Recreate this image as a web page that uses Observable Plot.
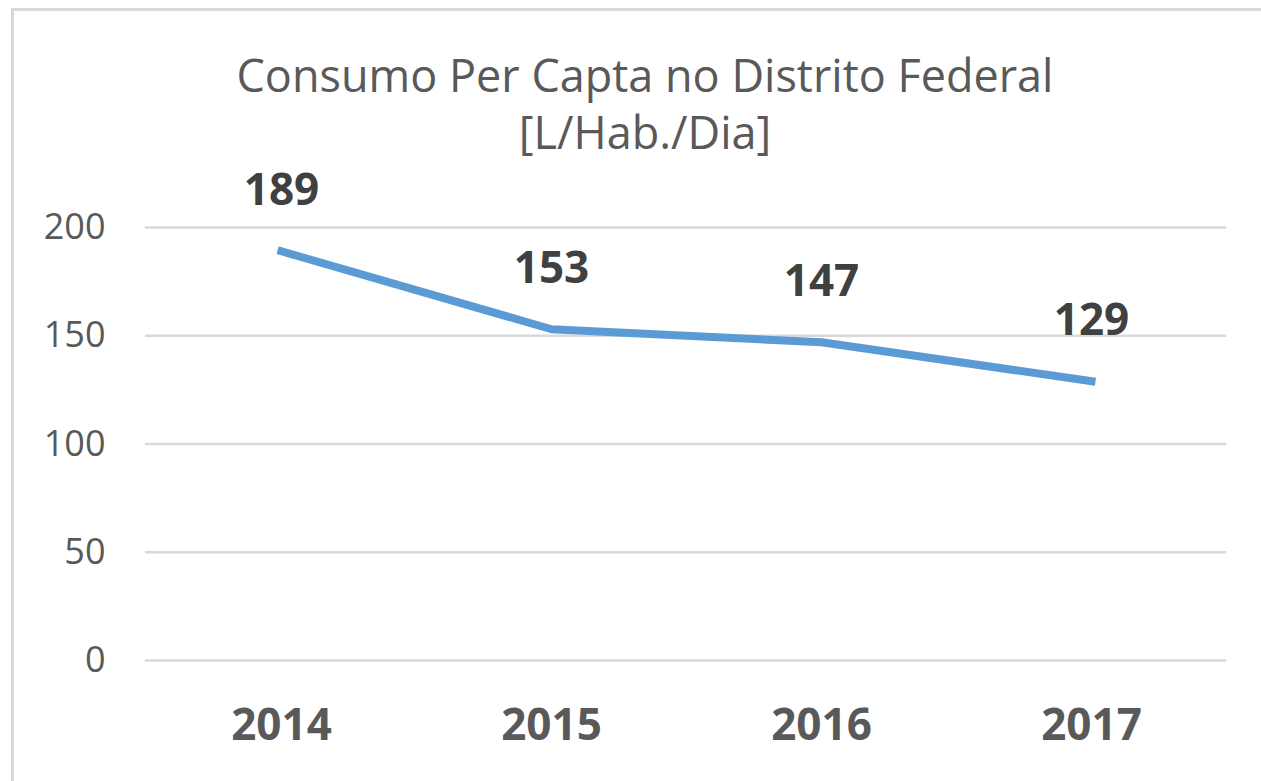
<!DOCTYPE html>
<html>
<head>
<meta charset="utf-8">
<script src="https://cdn.jsdelivr.net/npm/d3@7"></script>
<script src="https://cdn.jsdelivr.net/npm/@observablehq/plot@0.6"></script>
<style>
  html, body { margin: 0; padding: 0; background: #fff; overflow: hidden; width: 1261px; height: 781px; }
  #frame { position: absolute; left: 11px; top: 8px; width: 1400px; height: 900px; border: 3px solid #d9d9d9; box-sizing: border-box; }
  #title { position: absolute; left: 0; top: 46px; width: 1290px; text-align: center; font-family: "Open Sans", sans-serif; font-size: 45px; line-height: 57px; color: #595959; }
  #chart { position: absolute; left: 0; top: 150px; }
</style>
</head>
<body>
<div id="frame"></div>
<div id="title">Consumo Per Capta no Distrito Federal<br>[L/Hab./Dia]</div>
<div id="chart"></div>
<script>
const years = ["2014", "2015", "2016", "2017"];
const values = [189, 153, 147, 129];
const yTicks = [0, 50, 100, 150, 200];

const data = years.map((year, i) => ({year, value: values[i]}));

const plot = Plot.plot({
  width: 1261,
  height: 631,
  marginLeft: 145,
  marginRight: 35,
  marginTop: 77,
  marginBottom: 121,
  style: { fontFamily: "Open Sans, sans-serif", background: "transparent" },
  x: { type: "point", domain: years, padding: 0.5 },
  y: { domain: [0, 200] },
  marks: [
    Plot.gridY(yTicks, { stroke: "#d9d9d9", strokeOpacity: 1, strokeWidth: 2.5 }),
    Plot.axisY(yTicks, { tickSize: 0, tickPadding: 40, fontSize: 36, fill: "#595959", label: null }),
    Plot.axisX({ tickSize: 0, tickPadding: 48, fontSize: 44, fontWeight: "bold", fill: "#595959", label: null }),
    Plot.line(data, { x: "year", y: "value", stroke: "#5B9BD5", strokeWidth: 8, strokeLinecap: "square", strokeLinejoin: "round" }),
    Plot.text(data, { x: "year", y: "value", text: d => String(d.value), dy: -46, lineAnchor: "bottom", fontSize: 44, fontWeight: "bold", fill: "#404040" })
  ]
});
document.getElementById("chart").appendChild(plot);
</script>
</body>
</html>
